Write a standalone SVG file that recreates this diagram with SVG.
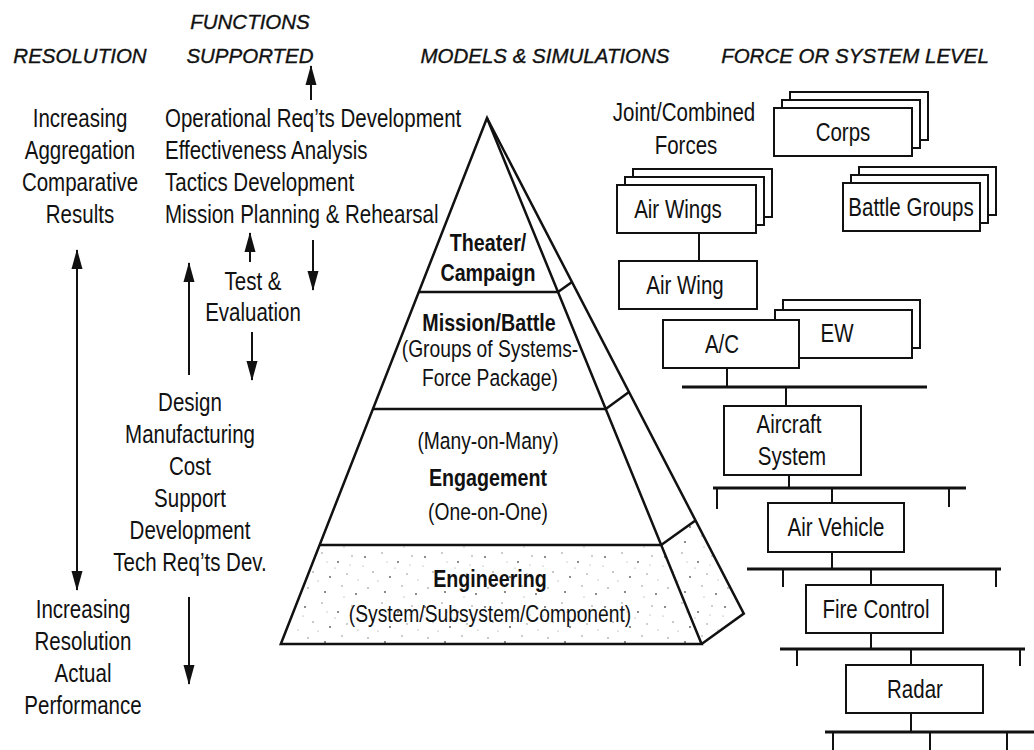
<svg xmlns="http://www.w3.org/2000/svg" width="1034" height="750" viewBox="0 0 1034 750">
<style>
text{font-family:"Liberation Sans",Arial,sans-serif;fill:#111;}
.h{font-size:20.5px;font-style:italic;text-anchor:middle;stroke:#111;stroke-width:0.35;}
.t{font-size:25px;}
.c{font-size:25px;text-anchor:middle;}
.p{font-size:23.5px;text-anchor:middle;}
.pb{font-size:24px;font-weight:bold;text-anchor:middle;}
.bx{fill:#fff;stroke:#111;stroke-width:2;}
.ln{stroke:#111;stroke-width:2;fill:none;}
.bar{stroke:#111;stroke-width:3;fill:none;}
.py{stroke:#111;stroke-width:2.5;fill:none;stroke-linejoin:miter;}
.ar{stroke:#111;stroke-width:2;fill:none;}
</style>
<defs>
<marker id="ah" markerUnits="userSpaceOnUse" markerWidth="20" markerHeight="12" refX="19" refY="5.5" orient="auto-start-reverse" viewBox="0 0 20 11">
<path d="M0,0 L20,5.5 L0,11 Z" fill="#111"/>
</marker>
<pattern id="dots" patternUnits="userSpaceOnUse" width="60" height="50">
<circle cx="5" cy="7" r="0.9" fill="#555"/><circle cx="22" cy="3" r="0.7" fill="#777"/>
<circle cx="38" cy="12" r="0.9" fill="#555"/><circle cx="52" cy="6" r="0.7" fill="#777"/>
<circle cx="13" cy="22" r="0.7" fill="#666"/><circle cx="30" cy="27" r="0.9" fill="#555"/>
<circle cx="47" cy="24" r="0.7" fill="#777"/><circle cx="8" cy="38" r="0.7" fill="#666"/>
<circle cx="25" cy="42" r="0.9" fill="#555"/><circle cx="42" cy="36" r="0.7" fill="#777"/>
<circle cx="56" cy="44" r="0.9" fill="#555"/><circle cx="18" cy="31" r="0.6" fill="#888"/>
<circle cx="35" cy="18" r="0.6" fill="#888"/><circle cx="58" cy="30" r="0.6" fill="#888"/>
<circle cx="3" cy="16" r="0.6" fill="#888"/><circle cx="44" cy="47" r="0.6" fill="#888"/>
<circle cx="27" cy="12" r="0.6" fill="#999"/><circle cx="50" cy="15" r="0.6" fill="#999"/>
</pattern>
</defs>

<g id="headers">
<text class="h" x="80" y="63">RESOLUTION</text>
<text class="h" x="250" y="29">FUNCTIONS</text>
<text class="h" x="250" y="63">SUPPORTED</text>
<text class="h" x="545" y="63">MODELS &amp; SIMULATIONS</text>
<text class="h" x="855" y="63">FORCE OR SYSTEM LEVEL</text>
</g>

<g id="resolution" transform="scale(0.82,1)">
<text class="c" x="97.56" y="127">Increasing</text>
<text class="c" x="97.56" y="159">Aggregation</text>
<text class="c" x="97.56" y="191">Comparative</text>
<text class="c" x="97.56" y="223">Results</text>
<text class="c" x="101.22" y="618">Increasing</text>
<text class="c" x="101.22" y="650">Resolution</text>
<text class="c" x="101.22" y="682">Actual</text>
<text class="c" x="101.22" y="714">Performance</text>
</g>

<g id="functions" transform="scale(0.82,1)">
<text class="t" x="201.22" y="127">Operational Req’ts Development</text>
<text class="t" x="201.22" y="159">Effectiveness Analysis</text>
<text class="t" x="201.22" y="191">Tactics Development</text>
<text class="t" x="201.22" y="223">Mission Planning &amp; Rehearsal</text>
<text class="c" x="308.54" y="290">Test &amp;</text>
<text class="c" x="308.54" y="321">Evaluation</text>
<text class="c" x="231.71" y="411">Design</text>
<text class="c" x="231.71" y="443">Manufacturing</text>
<text class="c" x="231.71" y="475">Cost</text>
<text class="c" x="231.71" y="507">Support</text>
<text class="c" x="231.71" y="539">Development</text>
<text class="c" x="231.71" y="571">Tech Req’ts Dev.</text>
</g>

<g id="arrows">
<line class="ar" x1="311" y1="100" x2="311" y2="66" marker-end="url(#ah)"/>
<line class="ar" x1="77" y1="250" x2="77" y2="590" marker-start="url(#ah)" marker-end="url(#ah)"/>
<line class="ar" x1="250" y1="262" x2="250" y2="233" marker-end="url(#ah)"/>
<line class="ar" x1="313" y1="240" x2="313" y2="290" marker-end="url(#ah)"/>
<line class="ar" x1="189" y1="375" x2="189" y2="263" marker-end="url(#ah)"/>
<line class="ar" x1="252" y1="332" x2="252" y2="380" marker-end="url(#ah)"/>
<line class="ar" x1="189" y1="597" x2="189" y2="684" marker-end="url(#ah)"/>
</g>

<g id="pyramid">
<polygon points="280.8,644 319.6,545 661.2,545 701.6,644" fill="url(#dots)"/>
<polygon points="661.2,545 695.4,520.4 743.8,613.6 701.6,644" fill="url(#dots)"/>
<polygon class="py" points="487,118 280.8,644 701.6,644"/>
<polyline class="py" points="487,118 743.8,613.6 701.6,644"/>
<line class="py" x1="418.8" y1="292" x2="558" y2="292"/>
<line class="py" x1="372.9" y1="409" x2="605.7" y2="409"/>
<line class="py" x1="319.6" y1="545" x2="661.2" y2="545"/>
<line class="py" x1="558" y1="292" x2="572" y2="282"/>
<line class="py" x1="605.7" y1="409" x2="629" y2="392"/>
<line class="py" x1="661.2" y1="545" x2="695.4" y2="520.4"/>
<g transform="scale(0.82,1)">
<text class="pb" x="595.12" y="251">Theater/</text>
<text class="pb" x="595.12" y="281">Campaign</text>
<text class="pb" x="596.34" y="331">Mission/Battle</text>
<text class="p" x="597.56" y="357">(Groups of Systems-</text>
<text class="p" x="597.56" y="386">Force Package)</text>
<text class="p" x="595.12" y="449">(Many-on-Many)</text>
<text class="pb" x="595.12" y="486">Engagement</text>
<text class="p" x="595.12" y="520">(One-on-One)</text>
<text class="pb" x="597.56" y="587">Engineering</text>
<text class="p" x="597.56" y="622">(System/Subsystem/Component)</text>
</g>
</g>

<g id="joint-label" transform="scale(0.82,1)">
<text class="c" x="834.15" y="121">Joint/Combined</text>
<text class="c" x="836.59" y="154">Forces</text>
</g>

<g id="corps">
<rect class="bx" x="790" y="92" width="138" height="48"/>
<rect class="bx" x="782" y="100" width="138" height="48"/>
<rect class="bx" x="774" y="108" width="138" height="48"/>
<text class="c" transform="scale(0.82,1)" x="1028.05" y="141">Corps</text>
</g>

<g id="battle-groups">
<rect class="bx" x="859" y="167" width="137" height="48"/>
<rect class="bx" x="851" y="175" width="137" height="48"/>
<rect class="bx" x="843" y="183" width="137" height="48"/>
<text class="c" transform="scale(0.82,1)" x="1110.98" y="216">Battle Groups</text>
</g>

<g id="air-wings">
<rect class="bx" x="633" y="169" width="139" height="48"/>
<rect class="bx" x="625" y="177" width="139" height="48"/>
<rect class="bx" x="617" y="185" width="139" height="48"/>
<text class="c" transform="scale(0.82,1)" x="826.83" y="218">Air Wings</text>
</g>

<g id="air-wing">
<rect class="bx" x="619" y="261" width="138" height="48"/>
<text class="c" transform="scale(0.82,1)" x="835.37" y="294">Air Wing</text>
</g>

<g id="ew">
<rect class="bx" x="783" y="300" width="137" height="48"/>
<rect class="bx" x="775" y="310" width="137" height="48"/>
<text class="c" transform="scale(0.82,1)" x="1020.73" y="342">EW</text>
</g>

<g id="ac">
<rect class="bx" x="663" y="320" width="136" height="48"/>
<text class="c" transform="scale(0.82,1)" x="880.49" y="353">A/C</text>
</g>

<g id="aircraft-system">
<rect class="bx" x="724" y="406" width="137" height="69"/>
<text class="c" transform="scale(0.82,1)" x="962.2" y="433">Aircraft</text>
<text class="c" transform="scale(0.82,1)" x="965.85" y="465">System</text>
</g>

<g id="air-vehicle">
<rect class="bx" x="768" y="503" width="136" height="49"/>
<text class="c" transform="scale(0.82,1)" x="1019.51" y="536">Air Vehicle</text>
</g>

<g id="fire-control">
<rect class="bx" x="806" y="585" width="137" height="48"/>
<text class="c" transform="scale(0.82,1)" x="1068.29" y="618">Fire Control</text>
</g>

<g id="radar">
<rect class="bx" x="846" y="665" width="137" height="48"/>
<text class="c" transform="scale(0.82,1)" x="1115.85" y="698">Radar</text>
</g>

<g id="connectors">
<line class="ln" x1="699" y1="233" x2="699" y2="261"/>
<line class="ln" x1="727" y1="368" x2="727" y2="387"/>
<line class="bar" x1="682" y1="387" x2="927" y2="387"/>
<line class="ln" x1="786" y1="387" x2="786" y2="406"/>
<line class="ln" x1="789" y1="475" x2="789" y2="488"/>
<line class="bar" x1="713" y1="488" x2="966" y2="488"/>
<line class="ln" x1="717" y1="488" x2="717" y2="509"/>
<line class="ln" x1="949" y1="488" x2="949" y2="507"/>
<line class="ln" x1="832" y1="488" x2="832" y2="503"/>
<line class="ln" x1="832" y1="552" x2="832" y2="569"/>
<line class="bar" x1="747" y1="569" x2="1001" y2="569"/>
<line class="ln" x1="783" y1="569" x2="783" y2="587"/>
<line class="ln" x1="996" y1="569" x2="996" y2="587"/>
<line class="ln" x1="871" y1="569" x2="871" y2="585"/>
<line class="ln" x1="871" y1="633" x2="871" y2="649"/>
<line class="bar" x1="780" y1="649" x2="1025" y2="649"/>
<line class="ln" x1="797" y1="649" x2="797" y2="666"/>
<line class="ln" x1="1020" y1="649" x2="1020" y2="666"/>
<line class="ln" x1="911" y1="649" x2="911" y2="665"/>
<line class="ln" x1="911" y1="713" x2="911" y2="732"/>
<line class="bar" x1="825" y1="732" x2="1034" y2="732"/>
<line class="ln" x1="833" y1="732" x2="833" y2="750"/>
<line class="ln" x1="930" y1="732" x2="930" y2="750"/>
<line class="ln" x1="1007" y1="732" x2="1007" y2="750"/>
</g>
</svg>
